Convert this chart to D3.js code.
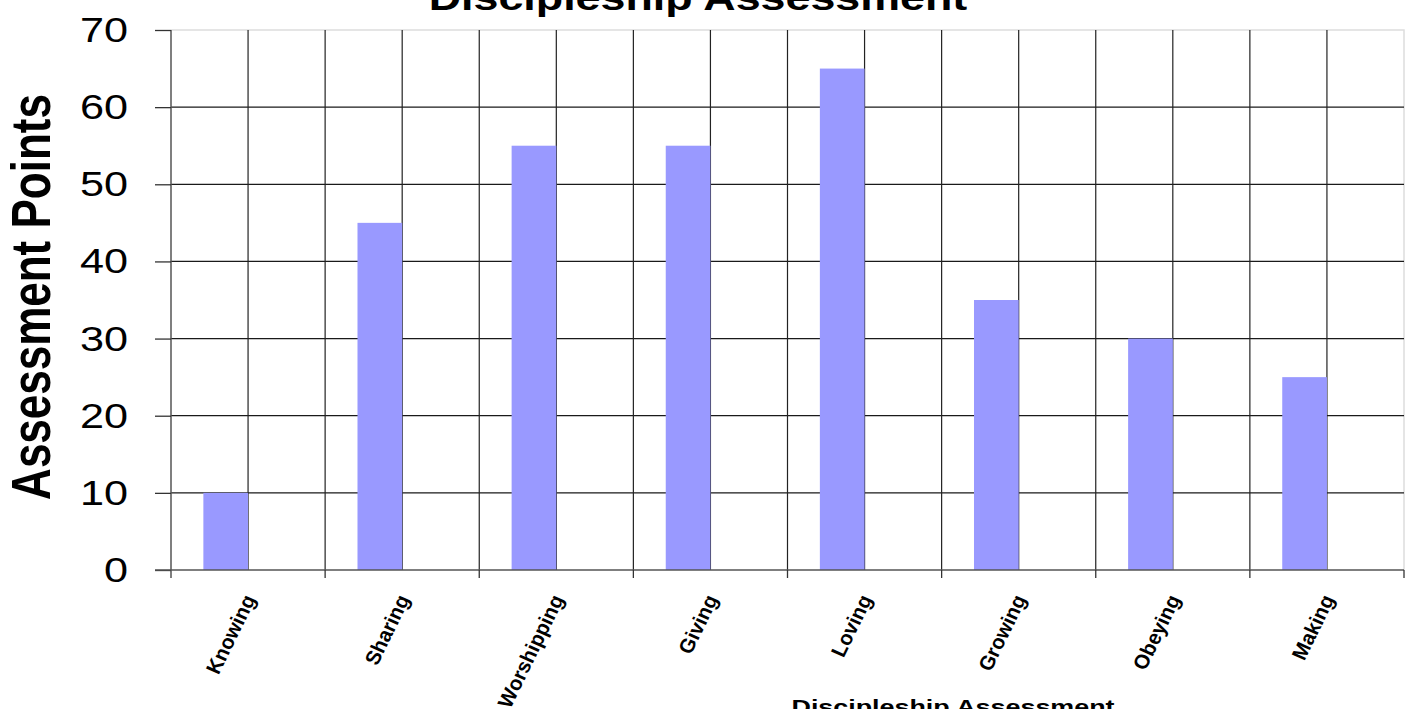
<!DOCTYPE html>
<html>
<head>
<meta charset="utf-8">
<script src="https://cdn.jsdelivr.net/npm/d3@7"></script>
<style>
  body { margin: 0; background: #fff; }
  svg { display: block; font-family: "Liberation Sans", Arial, sans-serif; }
</style>
</head>
<body>
<svg id="chart" width="1408" height="709"></svg>
<script>
const categories = ["Knowing", "Sharing", "Worshipping", "Giving", "Loving", "Growing", "Obeying", "Making"];
const points = [10, 45, 55, 55, 65, 35, 30, 25];
const yTicks = [0, 10, 20, 30, 40, 50, 60, 70];
const chartTitle = "Discipleship Assessment";
const xTitle = "Discipleship Assessment";
const yTitle = "Assessment Points";

const stretch = 1.28; // le rendu d'origine est étiré en largeur

const plot = { left: 171, right: 1404, top: 30, bottom: 570 };

const svg = d3.select("#chart");

const x = d3.scaleBand()
  .domain(categories)
  .range([plot.left, plot.right]);

const y = d3.scaleLinear()
  .domain([0, 70])
  .range([plot.bottom, plot.top]);

// Bordure haut / droite
svg.append("path")
  .attr("d", `M${plot.left},${plot.top}H${plot.right}V${plot.bottom}`)
  .attr("fill", "none")
  .attr("stroke", "#ddd")
  .attr("stroke-width", 1.5);

// Quadrillage horizontal
svg.append("g")
  .selectAll("line")
  .data(yTicks.filter(d => d > 0 && d < 70))
  .enter().append("line")
  .attr("x1", plot.left)
  .attr("x2", plot.right)
  .attr("y1", d => y(d))
  .attr("y2", d => y(d))
  .attr("stroke", "#1a1a1a")
  .attr("stroke-width", 1.2);

// Quadrillage vertical (limites et milieux des catégories)
const vLines = [];
categories.forEach((c, i) => {
  if (i > 0) vLines.push(x(c));
  vLines.push(x(c) + x.bandwidth() / 2);
});
svg.append("g")
  .selectAll("line")
  .data(vLines)
  .enter().append("line")
  .attr("x1", d => d)
  .attr("x2", d => d)
  .attr("y1", plot.top)
  .attr("y2", plot.bottom)
  .attr("stroke", "#222")
  .attr("stroke-width", 1.2);

// Barres
svg.append("g")
  .selectAll("rect")
  .data(categories)
  .enter().append("rect")
  .attr("x", d => x(d) + x.bandwidth() * 0.21)
  .attr("width", x.bandwidth() * 0.29)
  .attr("y", (d, i) => y(points[i]))
  .attr("height", (d, i) => y(0) - y(points[i]))
  .attr("fill", "#9999ff");

// Axe Y
const yAxis = svg.append("g")
  .attr("transform", `translate(${plot.left},0)`)
  .call(d3.axisLeft(y).tickValues(yTicks).tickSize(16).tickFormat(""));
yAxis.select(".domain").attr("stroke", "#555").attr("stroke-width", 1.5)
  .attr("d", `M0,${plot.top}V${plot.bottom + 8}`);
yAxis.selectAll(".tick line").attr("stroke", "#333").attr("stroke-width", 1.3);

svg.append("g")
  .selectAll("text")
  .data(yTicks)
  .enter().append("text")
  .attr("transform", d => `translate(128,${y(d) + 12}) scale(1.2,1)`)
  .attr("text-anchor", "end")
  .attr("font-size", 36)
  .attr("fill", "#000")
  .text(d => d);

// Axe X
const xAxis = svg.append("g")
  .attr("transform", `translate(0,${plot.bottom})`);
xAxis.append("line")
  .attr("x1", plot.left - 16)
  .attr("x2", plot.right)
  .attr("stroke", "#555")
  .attr("stroke-width", 1.5);
xAxis.selectAll(".xtick")
  .data(categories.slice(1).map(c => x(c)).concat([plot.right]))
  .enter().append("line")
  .attr("x1", d => d)
  .attr("x2", d => d)
  .attr("y1", 0)
  .attr("y2", 8)
  .attr("stroke", "#333")
  .attr("stroke-width", 1.3);

// Étiquettes inclinées
svg.append("g")
  .selectAll("text")
  .data(categories)
  .enter().append("text")
  .attr("transform", d => `translate(${x(d) + x.bandwidth() / 2 + 8},${plot.bottom + 29}) scale(1.05,1) rotate(-65)`)
  .attr("text-anchor", "end")
  .attr("font-size", 20)
  .attr("font-weight", "bold")
  .attr("fill", "#000")
  .text(d => d);

// Titres
svg.append("text")
  .attr("transform", `translate(698,10) scale(${stretch},1)`)
  .attr("text-anchor", "middle")
  .attr("font-size", 35)
  .attr("font-weight", "bold")
  .text(chartTitle);

svg.append("text")
  .attr("transform", `translate(953,714) scale(${stretch},1)`)
  .attr("text-anchor", "middle")
  .attr("font-size", 21)
  .attr("font-weight", "bold")
  .text(xTitle);

svg.append("text")
  .attr("transform", `translate(50,297) scale(${stretch},1) rotate(-90)`)
  .attr("text-anchor", "middle")
  .attr("font-size", 44)
  .attr("font-weight", "bold")
  .text(yTitle);
</script>
</body>
</html>
